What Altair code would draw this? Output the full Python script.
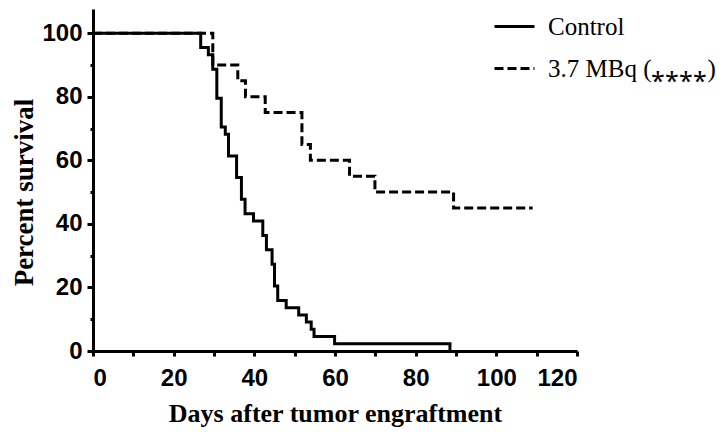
import altair as alt
import pandas as pd

groups = ["Control", "3.7 MBq (\u204e\u204e\u204e\u204e)"]

control_days = [0, 26.7, 28.6, 29.7, 30.7, 31.8, 32.8, 33.6, 35.6, 36.8, 37.7, 39.8,
                42.1, 43.0, 44.4, 45.0, 45.8, 47.9, 51.0, 52.9, 54.1, 54.8, 59.9, 88.5]
control_pct = [100, 95.45, 93.18, 88.64, 79.55, 70.45, 68.18, 61.36, 54.55, 47.73, 43.18, 40.91,
               36.36, 31.82, 27.27, 20.45, 15.91, 13.64, 11.36, 9.09, 6.82, 4.55, 2.27, 0]

treated_days = [0, 29.7, 35.9, 37.8, 42.7, 51.8, 53.9, 63.6, 69.9, 89.4, 109.0]
treated_pct = [100, 90, 85, 80, 75, 65, 60, 55, 50, 45, 45]

x_ticks = list(range(0, 121, 10))
y_ticks = list(range(0, 101, 10))

df = pd.concat([
    pd.DataFrame({"day": treated_days, "pct": treated_pct, "group": groups[1]}),
    pd.DataFrame({"day": control_days, "pct": control_pct, "group": groups[0]}),
], ignore_index=True)

chart = alt.Chart(df).mark_line(
    interpolate="step-after", strokeWidth=3, color="black", clip=True
).encode(
    x=alt.X("day:Q",
            scale=alt.Scale(domain=[0, 120], nice=False),
            axis=alt.Axis(values=x_ticks,
                          labelExpr="datum.value % 20 == 0 ? datum.label : ''",
                          title="Days after tumor engraftment",
                          tickSize=5, labelPadding=10,
                          titleBaseline="alphabetic", titleY=70)),
    y=alt.Y("pct:Q",
            scale=alt.Scale(domain=[0, 107.6], nice=False),
            axis=alt.Axis(values=y_ticks,
                          labelExpr="datum.value % 20 == 0 ? datum.label : ''",
                          title="Percent survival",
                          titleFontSize=27,
                          tickSize={"condition": {"test": "datum.value % 20 != 0", "value": 3}, "value": 6},
                          labelPadding=5,
                          titleAngle=-90, titleAlign="center", titleBaseline="alphabetic",
                          titleX=-61, titleY=183)),
    strokeDash=alt.StrokeDash("group:N",
                              scale=alt.Scale(domain=groups, range=[[1, 0], [9, 4]]),
                              legend=alt.Legend(title=None, orient="none", legendX=400, legendY=-4,
                                                symbolType="stroke", symbolSize=1600,
                                                symbolStrokeWidth=3, symbolStrokeColor="black",
                                                labelFont="Liberation Serif", labelFontSize=25,
                                                labelColor="black", labelOffset=12,
                                                rowPadding=7, padding=0, labelLimit=300)),
    detail="group:N",
).properties(
    width=484, height=342,
    autosize=alt.AutoSizeParams(type="none"),
    padding={"left": 85, "top": 1, "right": 143, "bottom": 84},
).configure_view(stroke=None).configure_axis(
    grid=False,
    domainWidth=3, domainColor="black",
    tickWidth=3, tickColor="black",
    labelFont="Liberation Sans", labelFontWeight="bold", labelFontSize=24, labelColor="black",
    titleFont="Liberation Serif", titleFontWeight="bold", titleFontSize=26, titleColor="black",
)

chart.save("out.html", embed_options={"renderer": "svg", "actions": False})
